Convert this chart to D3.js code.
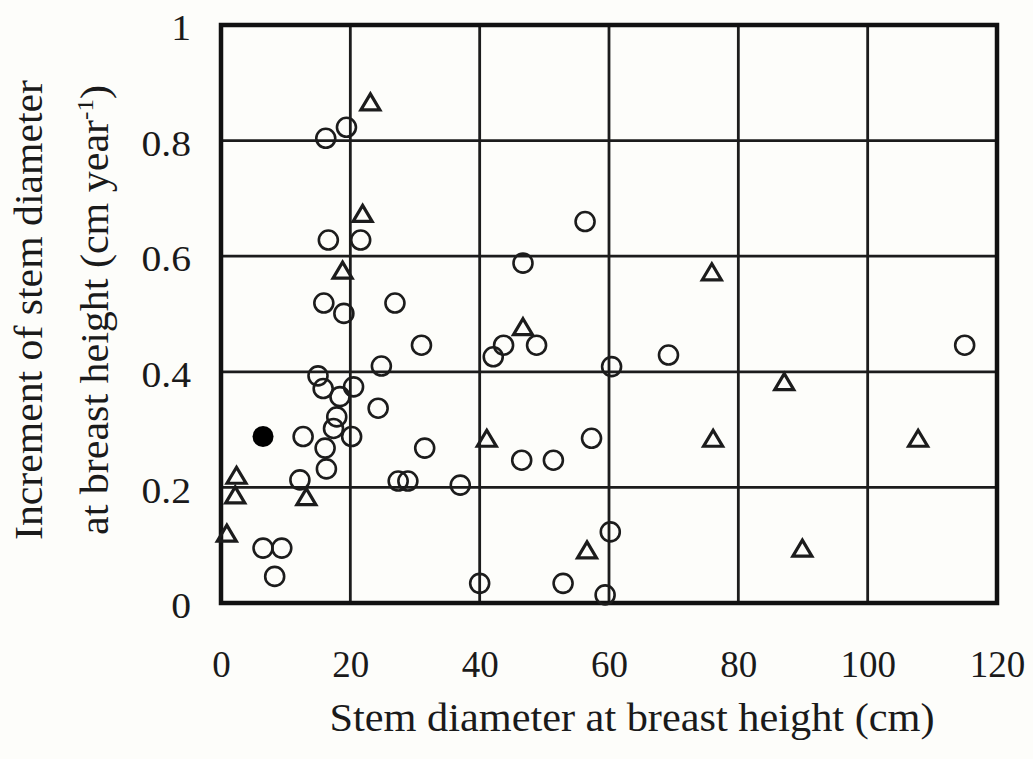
<!DOCTYPE html>
<html>
<head>
<meta charset="utf-8">
<script src="https://cdn.jsdelivr.net/npm/d3@7"></script>
<style>
  html, body { margin: 0; padding: 0; background: #fdfdfa; }
  svg { display: block; }
  text { font-family: "Liberation Serif", "Times New Roman", serif; fill: #1a1a1a; }
</style>
</head>
<body>
<svg id="chart" width="1033" height="759"></svg>
<script>
// ---- data ----
const xTicks = [0, 20, 40, 60, 80, 100, 120];
const yTicks = [0, 0.2, 0.4, 0.6, 0.8, 1];
const yTickLabels = ["0", "0.2", "0.4", "0.6", "0.8", "1"];

// open circles: [stem diameter (cm), increment (cm/year)]
const circleX = [16.2, 19.4, 16.6, 21.6, 15.9, 19.0, 26.9, 31.0, 15.0, 24.8, 15.8, 20.5, 18.4, 24.3, 17.9, 17.4,
                 20.2, 12.7, 16.1, 16.3, 12.2, 27.4, 28.9, 6.5, 9.4, 8.3, 43.7, 42.1, 48.8, 60.4, 31.5, 46.5,
                 51.4, 57.3, 37.0, 69.2, 60.2, 40.0, 52.9, 59.4, 56.3, 46.7, 115.0];
const circleY = [0.804, 0.823, 0.628, 0.628, 0.519, 0.501, 0.519, 0.446, 0.393, 0.410, 0.371, 0.374, 0.357, 0.337, 0.322, 0.302,
                 0.288, 0.288, 0.268, 0.232, 0.213, 0.211, 0.211, 0.095, 0.095, 0.046, 0.446, 0.426, 0.446, 0.409, 0.268, 0.247,
                 0.247, 0.285, 0.204, 0.429, 0.123, 0.034, 0.034, 0.014, 0.660, 0.588, 0.446];

// open triangles
const triangleX = [23.1, 21.9, 18.8, 46.7, 41.1, 2.4, 2.2, 13.2, 0.9, 56.6, 87.1, 76.1, 107.8, 89.9, 75.9];
const triangleY = [0.867, 0.674, 0.576, 0.478, 0.285, 0.221, 0.187, 0.184, 0.121, 0.092, 0.383, 0.285, 0.285, 0.095, 0.573];

// filled circle
const filledX = [6.5];
const filledY = [0.288];

const xTitle = "Stem diameter at breast height (cm)";
const yTitle1 = "Increment of stem diameter";
const yTitle2a = "at breast height (cm year";
const yTitle2sup = "-1";
const yTitle2b = ")";

// ---- layout ----
const svg = d3.select("#chart");
const pL = 221, pR = 997, pT = 25, pB = 603;

const x = d3.scaleLinear().domain([0, 120]).range([pL, pR]);
const y = d3.scaleLinear().domain([0, 1]).range([pB, pT]);

const ink = "#1c1c1c";

// grid lines
svg.append("g").selectAll("line").data(xTicks.slice(1, -1)).join("line")
  .attr("x1", d => x(d)).attr("x2", d => x(d))
  .attr("y1", pT).attr("y2", pB)
  .attr("stroke", ink).attr("stroke-width", 2.8);
svg.append("g").selectAll("line").data(yTicks.slice(1, -1)).join("line")
  .attr("x1", pL).attr("x2", pR)
  .attr("y1", d => y(d)).attr("y2", d => y(d))
  .attr("stroke", ink).attr("stroke-width", 2.8);

// frame
svg.append("rect")
  .attr("x", pL).attr("y", pT)
  .attr("width", pR - pL).attr("height", pB - pT)
  .attr("fill", "none").attr("stroke", "#111").attr("stroke-width", 4.5);

// axes (labels via d3 axis generators)
const xAxis = svg.append("g")
  .attr("transform", `translate(0,${pB})`)
  .call(d3.axisBottom(x).tickValues(xTicks).tickFormat(d3.format("d")).tickSize(0).tickPadding(0));
xAxis.select(".domain").remove();
xAxis.selectAll("text")
  .attr("y", 0).attr("dy", 0)
  .attr("transform", "translate(0,74)")
  .style("font-size", "37px").attr("fill", ink);

const yAxis = svg.append("g")
  .attr("transform", `translate(${pL},0)`)
  .call(d3.axisLeft(y).tickValues(yTicks).tickFormat((d, i) => yTickLabels[i]).tickSize(0).tickPadding(0));
yAxis.select(".domain").remove();
yAxis.selectAll("text")
  .attr("x", 0).attr("dy", "0.35em")
  .attr("transform", "translate(-30,2) scale(1.1,1)")
  .style("font-size", "36px").attr("fill", ink);

// axis titles
svg.append("text")
  .attr("x", 632).attr("y", 731)
  .attr("text-anchor", "middle")
  .attr("textLength", 605).attr("lengthAdjust", "spacingAndGlyphs")
  .style("font-size", "39px")
  .text(xTitle);

svg.append("text")
  .attr("transform", "translate(42,310) rotate(-90)")
  .attr("text-anchor", "middle")
  .attr("textLength", 460).attr("lengthAdjust", "spacingAndGlyphs")
  .style("font-size", "40px")
  .text(yTitle1);

const t2 = svg.append("text")
  .attr("transform", "translate(108,310) rotate(-90)")
  .attr("text-anchor", "middle")
  .attr("textLength", 450).attr("lengthAdjust", "spacingAndGlyphs")
  .style("font-size", "40px");
t2.append("tspan").text(yTitle2a);
t2.append("tspan").attr("dy", -15).style("font-size", "24px").text(yTitle2sup);
t2.append("tspan").attr("dy", 15).text(yTitle2b);

// markers
const r = 9.5;
const circles = circleX.map((v, i) => [v, circleY[i]]);
svg.append("g").selectAll("circle").data(circles).join("circle")
  .attr("cx", d => x(d[0])).attr("cy", d => y(d[1])).attr("r", r)
  .attr("fill", "none")
  .attr("stroke", ink).attr("stroke-width", 2.6);

const tri = triangleX.map((v, i) => [v, triangleY[i]]);
const tw = 19, th = 16;
const triPath = `M0,${-th/2}L${tw/2},${th/2}L${-tw/2},${th/2}Z`;
svg.append("g").selectAll("path").data(tri).join("path")
  .attr("transform", d => `translate(${x(d[0])},${y(d[1])})`)
  .attr("d", triPath)
  .attr("fill", "none")
  .attr("stroke", ink).attr("stroke-width", 3.2).attr("stroke-linejoin", "miter");

const filled = filledX.map((v, i) => [v, filledY[i]]);
svg.append("g").selectAll("circle").data(filled).join("circle")
  .attr("cx", d => x(d[0])).attr("cy", d => y(d[1])).attr("r", 10.5)
  .attr("fill", "#000");
</script>
</body>
</html>
